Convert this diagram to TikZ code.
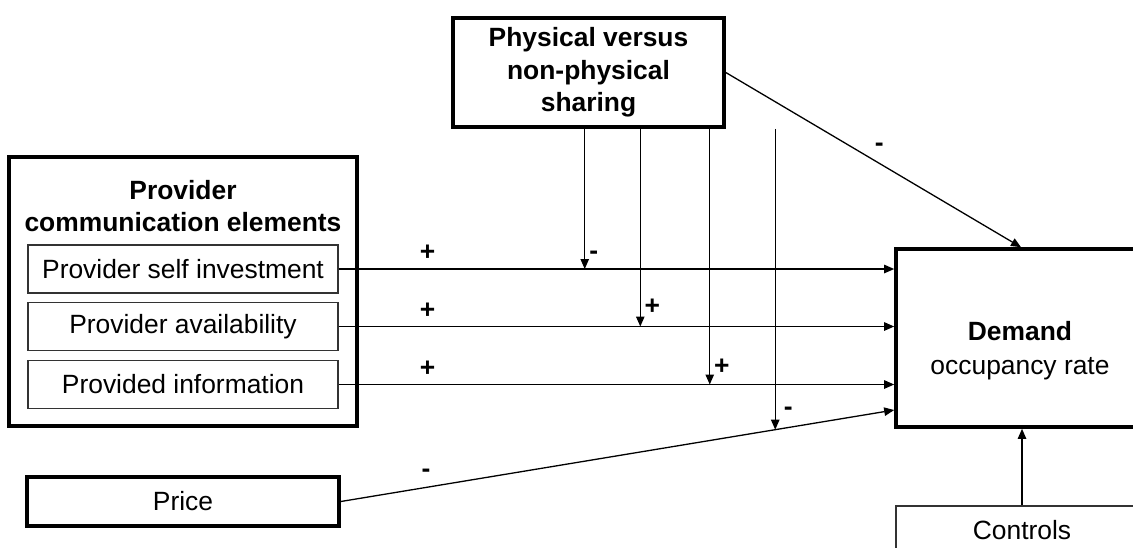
\documentclass[tikz,border=0pt]{standalone}
\usepackage{fontspec}
\setmainfont{Liberation Sans}
\usetikzlibrary{arrows.meta, positioning}
\tikzset{>={Triangle[length=5pt,width=4.2pt]}}
\begin{document}
\begin{tikzpicture}[x=0.5pt, y=-0.5pt, font=\fontsize{13.2}{16}\selectfont,
  bigbox/.style={draw, line width=1.8pt, inner sep=0pt},
  itembox/.style={draw=black!80, line width=0.6pt, minimum width=155pt, minimum height=24pt, inner sep=0pt},
  link/.style={->, line width=0.65pt},
  sign/.style={inner sep=0pt, font=\fontsize{13.2}{16}\selectfont\bfseries}]
\useasboundingbox (0,0) rectangle (1133,547);
\clip (0,0) rectangle (1133,547);
\node[bigbox, minimum width=174pt, minimum height=134.5pt] (prov) at (183,291.5) {};
\node[font=\fontsize{13.2}{16}\selectfont\bfseries, align=center] (provtitle) at (183,206) {Provider\\communication elements};
\node[itembox] (invest) at (183,269) {Provider self investment};
\node[itembox] (avail) at (183,326.5) {Provider availability};
\node[itembox] (info) at (183,384.5) {Provided information};
\node[bigbox, minimum width=156pt, minimum height=24.5pt] (price) at (183,501.5) {Price};
\node[bigbox, minimum width=135.5pt, minimum height=54.5pt, align=center, font=\fontsize{13.2}{16.2}\selectfont\bfseries] (phys) at (588.5,72.5) {Physical versus\\non-physical\\sharing};
\node[bigbox, minimum width=125pt, minimum height=89pt] (demand) at (1021,338) {};
\node[align=center, font=\fontsize{13.2}{17}\selectfont] (demtxt) at (1020,351) {\textbf{Demand}\\occupancy rate};
\node[itembox, minimum width=126pt] (ctrl) at (1022,530) {Controls};
% main effects
\draw[link] (invest.east) -- (invest.east -| demand.west) coordinate[pos=.443] (j1) node[sign, pos=.16, yshift=8pt] {+};
\draw[link] (avail.east) -- (avail.east -| demand.west) coordinate[pos=.543] (j2) node[sign, pos=.16, yshift=8pt] {+};
\draw[link] (info.east) -- (info.east -| demand.west) coordinate[pos=.668] (j3) node[sign, pos=.16, yshift=8pt] {+};
\draw[link] (price.east) -- ([yshift=-36pt]demand.west) coordinate[pos=.785] (j4) node[sign, pos=.154, yshift=7pt] {-};
\draw[link] (phys.east) -- (demand.north) node[sign, pos=.52, yshift=8pt] {-};
\draw[link] (ctrl.north) -- (ctrl.north |- demand.south);
% moderation
\draw[link] (phys.south -| j1) -- (j1) node[sign, at end, xshift=4.5pt, yshift=7pt] {-};
\draw[link] (phys.south -| j2) -- (j2) node[sign, at end, xshift=6pt, yshift=10pt] {+};
\draw[link] (phys.south -| j3) -- (j3) node[sign, at end, xshift=6pt, yshift=9pt] {+};
\draw[link] (phys.south -| j4) -- (j4) node[sign, at end, xshift=6.5pt, yshift=9pt] {-};
\end{tikzpicture}
\end{document}
